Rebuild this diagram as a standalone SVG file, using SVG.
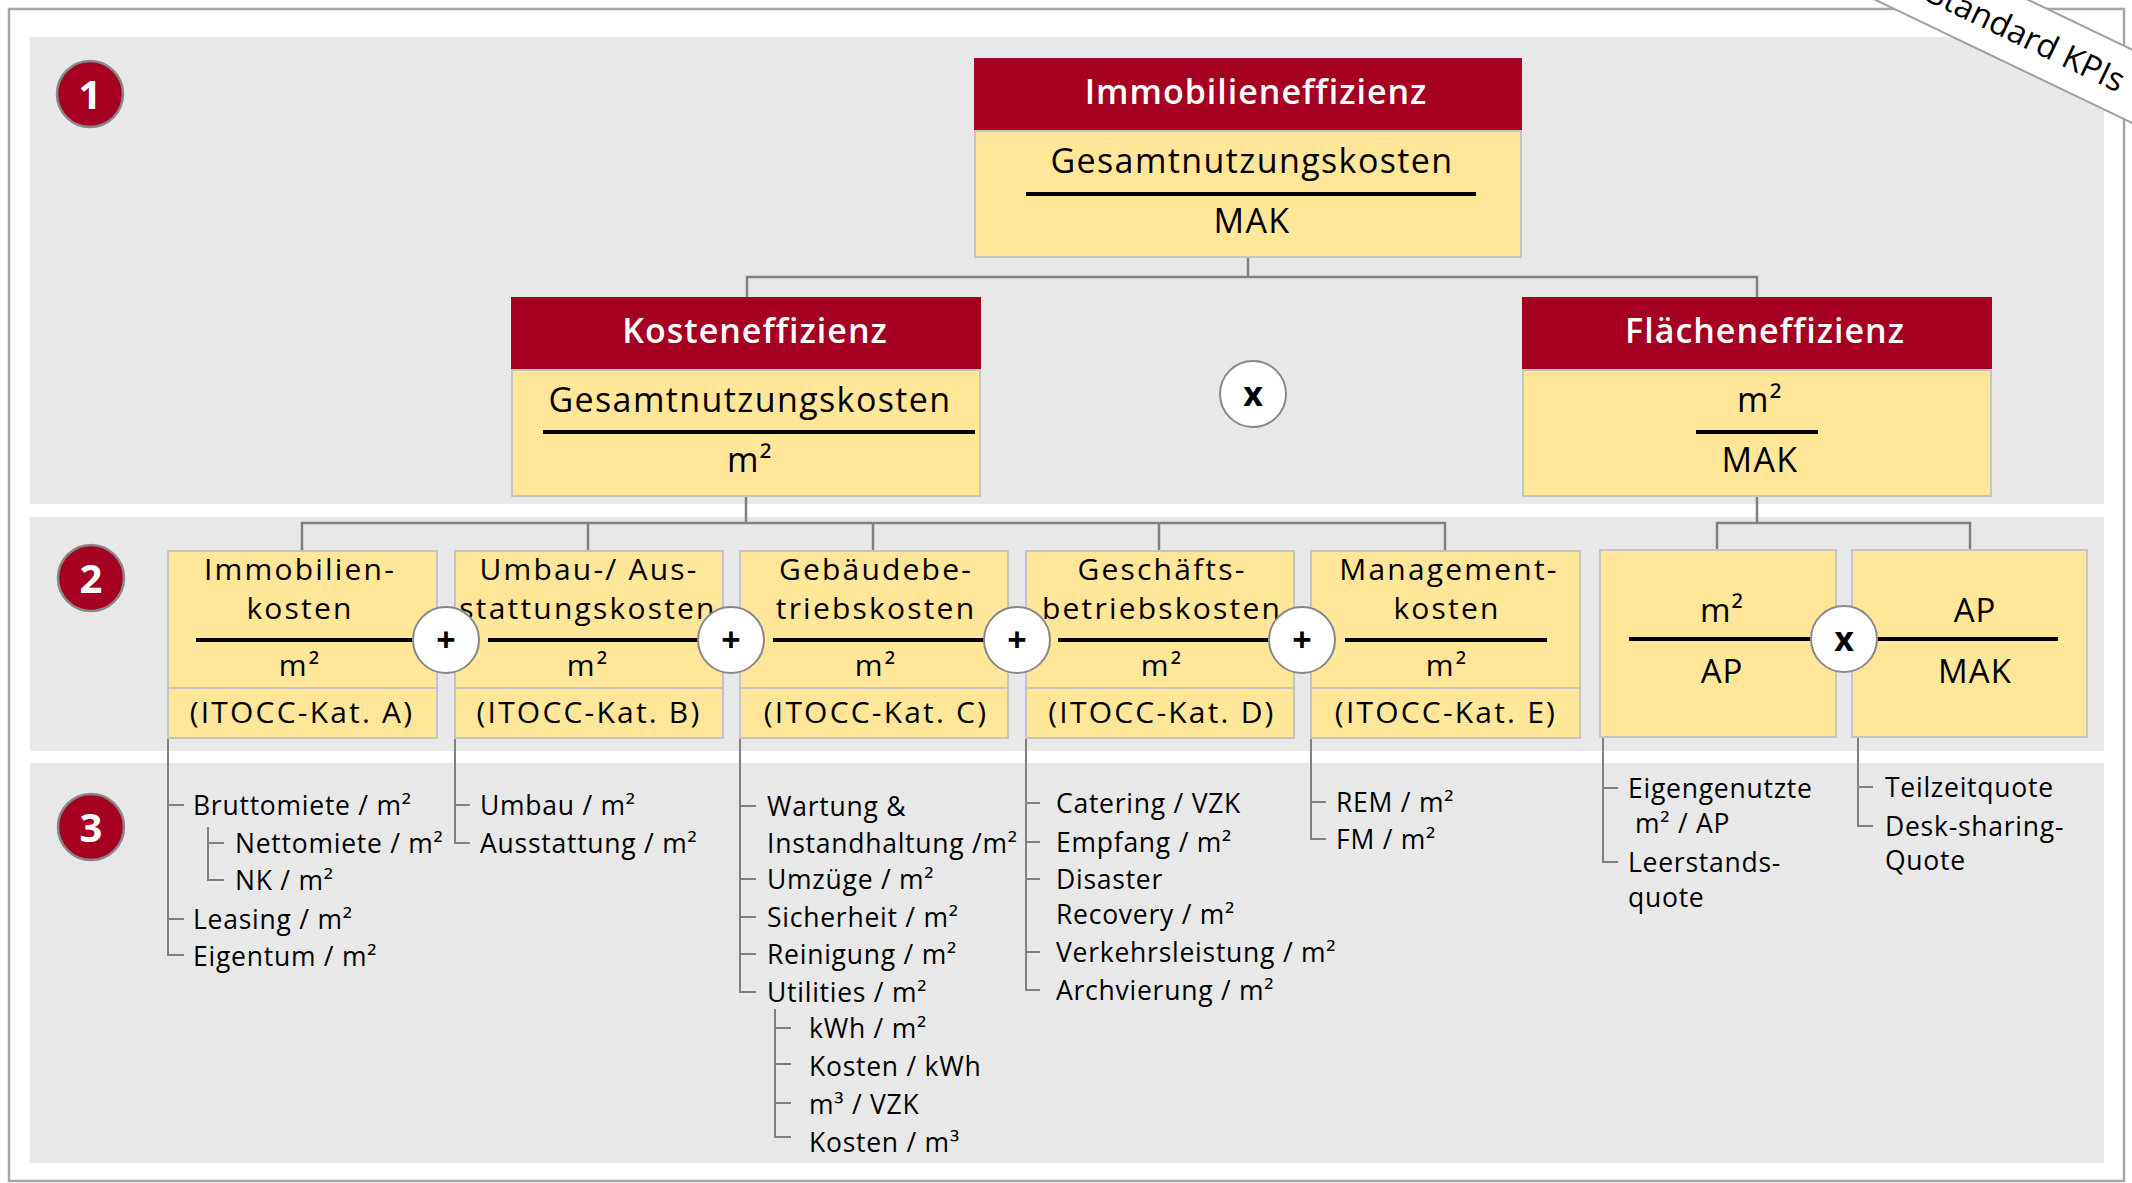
<svg xmlns="http://www.w3.org/2000/svg" width="2132" height="1183" viewBox="0 0 2132 1183">
<style>
text{font-family:"Open Sans","Noto Sans",sans-serif;}
.panel{fill:#E8E8E8;}
.red{fill:#A50021;}
.yel{fill:#FFE699;stroke:#C4C4C4;stroke-width:2;}
.hdr{font-size:34px;font-weight:600;fill:#fff;text-anchor:middle;letter-spacing:1px;}
.l1{font-size:34px;fill:#000;text-anchor:middle;letter-spacing:1.4px;}
.l2{font-size:30px;fill:#000;text-anchor:middle;letter-spacing:2.2px;}
.l2f{font-size:33px;fill:#000;text-anchor:middle;letter-spacing:1px;}
.l3{font-size:26.5px;fill:#000;letter-spacing:0.75px;}
.frac{stroke:#000;stroke-width:4;}
.op{fill:#fff;stroke:#888;stroke-width:2;}
.opt{font-size:34px;font-weight:700;fill:#000;text-anchor:middle;}
.num{fill:#A50021;stroke:#888;stroke-width:2.5;}
.numt{font-size:40px;font-weight:700;fill:#fff;text-anchor:middle;}
.con{stroke:#808080;stroke-width:2.5;fill:none;}
.tree{stroke:#808080;stroke-width:2;fill:none;}
</style>

<!-- frame and panels -->
<rect x="9" y="9" width="2115" height="1172" fill="#fff" stroke="#A6A6A6" stroke-width="2.5"/>
<rect class="panel" x="30" y="37" width="2074" height="467"/>
<rect class="panel" x="30" y="517" width="2074" height="234"/>
<rect class="panel" x="30" y="763" width="2074" height="400"/>

<!-- level markers -->
<g id="marker1"><circle class="num" cx="90" cy="94" r="33"/><text class="numt" x="90" y="109">1</text></g>
<g id="marker2"><circle class="num" cx="91" cy="578" r="33"/><text class="numt" x="91" y="593">2</text></g>
<g id="marker3"><circle class="num" cx="91" cy="827" r="33"/><text class="numt" x="91" y="842">3</text></g>

<!-- connectors -->
<g id="connectors">
  <path class="con" d="M1248 257V277M747 297V277H1757V297"/>
  <path class="con" d="M746 496V523M302 550V523H1445V550M588 523V550M873 523V550M1159 523V550"/>
  <path class="con" d="M1757 496V523M1717 550V523H1970V550"/>
  <!-- level 3 trees -->
  <path class="tree" d="M168 738V955H184M168 805H184M168 919H184"/>
  <path class="tree" d="M208 827V880H224M208 843H224"/>
  <path class="tree" d="M455 738V843H470M455 805H470"/>
  <path class="tree" d="M740 738V992H756M740 806H756M740 879H756M740 917H756M740 954H756"/>
  <path class="tree" d="M775 1009V1137H791M775 1028H791M775 1064H791M775 1103H791"/>
  <path class="tree" d="M1026 738V990H1040M1026 803H1040M1026 842H1040M1026 879H1040M1026 952H1040"/>
  <path class="tree" d="M1311 738V839H1326M1311 802H1326"/>
  <path class="tree" d="M1603 737V862H1618M1603 788H1618"/>
  <path class="tree" d="M1858 737V826H1873M1858 787H1873"/>
</g>

<!-- level 1 -->
<g id="immobilieneffizienz">
  <rect class="red" x="974" y="58" width="548" height="73"/>
  <rect class="yel" x="975" y="131" width="546" height="126"/>
  <text class="hdr" x="1256" y="104">Immobilieneffizienz</text>
  <text class="l1" x="1252" y="173">Gesamtnutzungskosten</text>
  <line class="frac" x1="1026" y1="194" x2="1476" y2="194"/>
  <text class="l1" x="1252" y="233">MAK</text>
</g>
<g id="kosteneffizienz">
  <rect class="red" x="511" y="297" width="470" height="73"/>
  <rect class="yel" x="512" y="370" width="468" height="126"/>
  <text class="hdr" x="755" y="343">Kosteneffizienz</text>
  <text class="l1" x="750" y="412">Gesamtnutzungskosten</text>
  <line class="frac" x1="543" y1="432" x2="975" y2="432"/>
  <text class="l1" x="750" y="472">m²</text>
</g>
<g id="flaecheneffizienz">
  <rect class="red" x="1522" y="297" width="470" height="73"/>
  <rect class="yel" x="1523" y="370" width="468" height="126"/>
  <text class="hdr" x="1765" y="343">Flächeneffizienz</text>
  <text class="l1" x="1760" y="412">m²</text>
  <line class="frac" x1="1696" y1="432" x2="1818" y2="432"/>
  <text class="l1" x="1760" y="472">MAK</text>
</g>
<g id="op-x1"><circle class="op" cx="1253" cy="394" r="33"/><text class="opt" x="1253" y="406">x</text></g>

<!-- level 2 -->
<g id="kat-a">
  <rect class="yel" x="168" y="551" width="269" height="137"/>
  <rect class="yel" x="168" y="688" width="269" height="50"/>
  <text class="l2" x="300" y="580">Immobilien-</text>
  <text class="l2" x="300" y="619">kosten</text>
  <line class="frac" x1="196" y1="640" x2="412" y2="640"/>
  <text class="l2" x="300" y="676">m²</text>
  <text class="l2" x="302" y="723">(ITOCC-Kat. A)</text>
</g>
<g id="kat-b">
  <rect class="yel" x="455" y="551" width="268" height="137"/>
  <rect class="yel" x="455" y="688" width="268" height="50"/>
  <text class="l2" x="589" y="580">Umbau-/ Aus-</text>
  <text class="l2" x="588" y="619">stattungskosten</text>
  <line class="frac" x1="488" y1="640" x2="698" y2="640"/>
  <text class="l2" x="588" y="676">m²</text>
  <text class="l2" x="589" y="723">(ITOCC-Kat. B)</text>
</g>
<g id="kat-c">
  <rect class="yel" x="740" y="551" width="268" height="137"/>
  <rect class="yel" x="740" y="688" width="268" height="50"/>
  <text class="l2" x="876" y="580">Gebäudebe-</text>
  <text class="l2" x="876" y="619">triebskosten</text>
  <line class="frac" x1="773" y1="640" x2="984" y2="640"/>
  <text class="l2" x="876" y="676">m²</text>
  <text class="l2" x="876" y="723">(ITOCC-Kat. C)</text>
</g>
<g id="kat-d">
  <rect class="yel" x="1026" y="551" width="268" height="137"/>
  <rect class="yel" x="1026" y="688" width="268" height="50"/>
  <text class="l2" x="1162" y="580">Geschäfts-</text>
  <text class="l2" x="1162" y="619">betriebskosten</text>
  <line class="frac" x1="1058" y1="640" x2="1269" y2="640"/>
  <text class="l2" x="1162" y="676">m²</text>
  <text class="l2" x="1162" y="723">(ITOCC-Kat. D)</text>
</g>
<g id="kat-e">
  <rect class="yel" x="1311" y="551" width="269" height="137"/>
  <rect class="yel" x="1311" y="688" width="269" height="50"/>
  <text class="l2" x="1449" y="580">Management-</text>
  <text class="l2" x="1447" y="619">kosten</text>
  <line class="frac" x1="1345" y1="640" x2="1547" y2="640"/>
  <text class="l2" x="1447" y="676">m²</text>
  <text class="l2" x="1446" y="723">(ITOCC-Kat. E)</text>
</g>
<g id="m2-ap">
  <rect class="yel" x="1600" y="550" width="236" height="187"/>
  <text class="l2f" x="1722" y="622">m²</text>
  <line class="frac" x1="1629" y1="639" x2="1810" y2="639"/>
  <text class="l2f" x="1722" y="683">AP</text>
</g>
<g id="ap-mak">
  <rect class="yel" x="1852" y="550" width="235" height="187"/>
  <text class="l2f" x="1975" y="622">AP</text>
  <line class="frac" x1="1878" y1="639" x2="2058" y2="639"/>
  <text class="l2f" x="1975" y="683">MAK</text>
</g>
<g id="op-plus1"><circle class="op" cx="446" cy="640" r="33"/><text class="opt" x="446" y="652">+</text></g>
<g id="op-plus2"><circle class="op" cx="731" cy="640" r="33"/><text class="opt" x="731" y="652">+</text></g>
<g id="op-plus3"><circle class="op" cx="1017" cy="640" r="33"/><text class="opt" x="1017" y="652">+</text></g>
<g id="op-plus4"><circle class="op" cx="1302" cy="640" r="33"/><text class="opt" x="1302" y="652">+</text></g>
<g id="op-x2"><circle class="op" cx="1844" cy="639" r="33"/><text class="opt" x="1844" y="651">x</text></g>

<!-- level 3 -->
<g id="items-a">
  <text class="l3" x="193" y="815">Bruttomiete / m²</text>
  <text class="l3" x="235" y="853">Nettomiete / m²</text>
  <text class="l3" x="235" y="890">NK / m²</text>
  <text class="l3" x="193" y="929">Leasing / m²</text>
  <text class="l3" x="193" y="966">Eigentum / m²</text>
</g>
<g id="items-b">
  <text class="l3" x="480" y="815">Umbau / m²</text>
  <text class="l3" x="480" y="853">Ausstattung / m²</text>
</g>
<g id="items-c">
  <text class="l3" x="767" y="816">Wartung &amp;</text>
  <text class="l3" x="767" y="853">Instandhaltung /m²</text>
  <text class="l3" x="767" y="889">Umzüge / m²</text>
  <text class="l3" x="767" y="927">Sicherheit / m²</text>
  <text class="l3" x="767" y="964">Reinigung / m²</text>
  <text class="l3" x="767" y="1002">Utilities / m²</text>
  <text class="l3" x="809" y="1038">kWh / m²</text>
  <text class="l3" x="809" y="1076">Kosten / kWh</text>
  <text class="l3" x="809" y="1114">m³ / VZK</text>
  <text class="l3" x="809" y="1152">Kosten / m³</text>
</g>
<g id="items-d">
  <text class="l3" x="1056" y="813">Catering / VZK</text>
  <text class="l3" x="1056" y="852">Empfang / m²</text>
  <text class="l3" x="1056" y="889">Disaster</text>
  <text class="l3" x="1056" y="924">Recovery / m²</text>
  <text class="l3" x="1056" y="962">Verkehrsleistung / m²</text>
  <text class="l3" x="1056" y="1000">Archvierung / m²</text>
</g>
<g id="items-e">
  <text class="l3" x="1336" y="812">REM / m²</text>
  <text class="l3" x="1336" y="849">FM / m²</text>
</g>
<g id="items-f">
  <text class="l3" x="1628" y="798">Eigengenutzte</text>
  <text class="l3" x="1635" y="833">m² / AP</text>
  <text class="l3" x="1628" y="872">Leerstands-</text>
  <text class="l3" x="1628" y="907">quote</text>
</g>
<g id="items-g">
  <text class="l3" x="1885" y="797">Teilzeitquote</text>
  <text class="l3" x="1885" y="836">Desk-sharing-</text>
  <text class="l3" x="1885" y="870">Quote</text>
</g>

<!-- ribbon -->
<g id="ribbon" transform="translate(2023,34) rotate(25.6)">
  <rect x="-300" y="-33" width="600" height="66" fill="#fff" stroke="#A0A0A0" stroke-width="2"/>
  <text x="4" y="12" font-size="33" text-anchor="middle" fill="#000">Standard KPIs</text>
</g>
</svg>
